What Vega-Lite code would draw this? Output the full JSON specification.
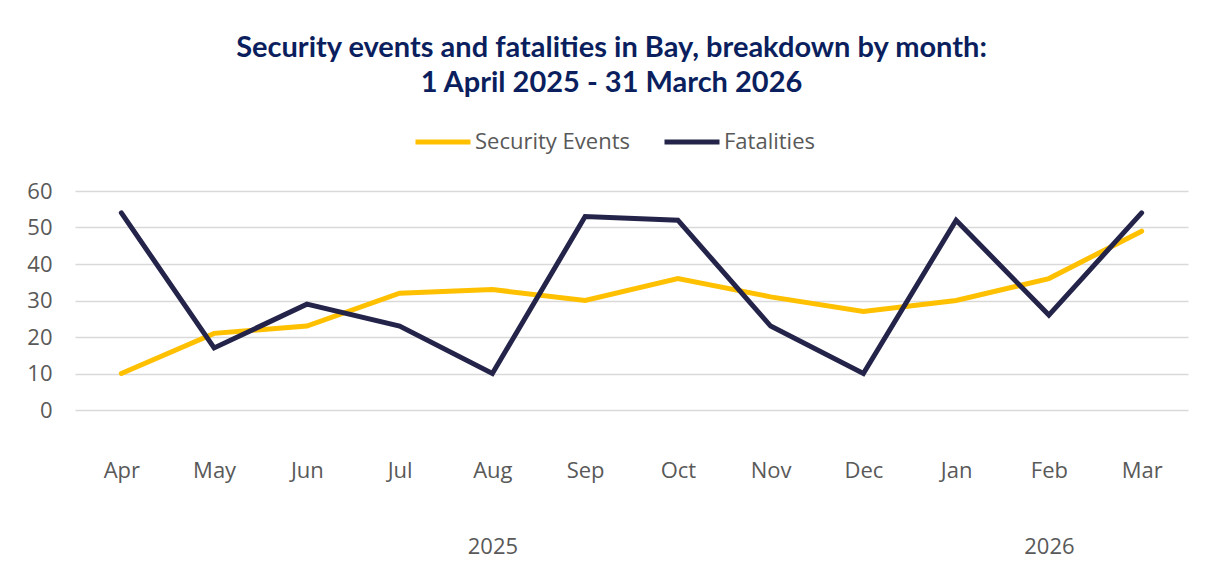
{
  "$schema": "https://vega.github.io/schema/vega-lite/v6.json",
  "width": 1113,
  "height": 219,
  "autosize": {"type": "none"},
  "padding": {"left": 75, "top": 191, "right": 25, "bottom": 159},
  "background": "white",
  "title": {
    "text": ["Security events and fatalities in Bay, breakdown by month:", "1 April 2025 - 31 March 2026"],
    "font": "Lato",
    "fontSize": 29,
    "fontWeight": "bold",
    "color": "#0B1F5E",
    "lineHeight": 35,
    "anchor": "middle",
    "offset": 14,
    "dx": -20
  },
  "data": {
    "values": [
      {"month": "Apr", "series": "Security Events", "value": 10},
      {"month": "May", "series": "Security Events", "value": 21},
      {"month": "Jun", "series": "Security Events", "value": 23},
      {"month": "Jul", "series": "Security Events", "value": 32},
      {"month": "Aug", "series": "Security Events", "value": 33},
      {"month": "Sep", "series": "Security Events", "value": 30},
      {"month": "Oct", "series": "Security Events", "value": 36},
      {"month": "Nov", "series": "Security Events", "value": 31},
      {"month": "Dec", "series": "Security Events", "value": 27},
      {"month": "Jan", "series": "Security Events", "value": 30},
      {"month": "Feb", "series": "Security Events", "value": 36},
      {"month": "Mar", "series": "Security Events", "value": 49},
      {"month": "Apr", "series": "Fatalities", "value": 54},
      {"month": "May", "series": "Fatalities", "value": 17},
      {"month": "Jun", "series": "Fatalities", "value": 29},
      {"month": "Jul", "series": "Fatalities", "value": 23},
      {"month": "Aug", "series": "Fatalities", "value": 10},
      {"month": "Sep", "series": "Fatalities", "value": 53},
      {"month": "Oct", "series": "Fatalities", "value": 52},
      {"month": "Nov", "series": "Fatalities", "value": 23},
      {"month": "Dec", "series": "Fatalities", "value": 10},
      {"month": "Jan", "series": "Fatalities", "value": 52},
      {"month": "Feb", "series": "Fatalities", "value": 26},
      {"month": "Mar", "series": "Fatalities", "value": 54}
    ]
  },
  "mark": {"type": "line", "strokeWidth": 5, "strokeCap": "round", "strokeJoin": "miter"},
  "encoding": {
    "x": {
      "field": "month",
      "type": "ordinal",
      "sort": ["Apr", "May", "Jun", "Jul", "Aug", "Sep", "Oct", "Nov", "Dec", "Jan", "Feb", "Mar"],
      "scale": {"type": "point", "padding": 0.5},
      "axis": {
        "title": null,
        "domain": false,
        "ticks": false,
        "grid": false,
        "labelAngle": 0,
        "labelPadding": 50,
        "labelBaseline": "top",
        "labelLineHeight": 76,
        "labelExpr": "datum.value == 'Aug' ? ['Aug', '2025'] : datum.value == 'Feb' ? ['Feb', '2026'] : datum.value"
      }
    },
    "y": {
      "field": "value",
      "type": "quantitative",
      "scale": {"domain": [0, 60], "nice": false},
      "axis": {
        "title": null,
        "values": [0, 10, 20, 30, 40, 50, 60],
        "domain": false,
        "ticks": false,
        "grid": true,
        "labelPadding": 23
      }
    },
    "color": {
      "field": "series",
      "type": "nominal",
      "sort": ["Security Events", "Fatalities"],
      "scale": {"domain": ["Security Events", "Fatalities"], "range": ["#FFC000", "#24244A"]},
      "legend": {
        "title": null,
        "orient": "none",
        "direction": "horizontal",
        "legendX": 338,
        "legendY": -79,
        "symbolType": "stroke",
        "symbolSize": 3025,
        "symbolStrokeWidth": 5,
        "columnPadding": 24,
        "labelOffset": 2
      }
    }
  },
  "config": {
    "font": "Open Sans",
    "view": {"stroke": null},
    "axis": {
      "labelFont": "Open Sans",
      "labelFontSize": 22,
      "labelColor": "#595959",
      "gridColor": "#D9D9D9",
      "gridWidth": 1.5
    },
    "legend": {
      "labelFont": "Open Sans",
      "labelFontSize": 22,
      "labelColor": "#595959"
    }
  }
}
